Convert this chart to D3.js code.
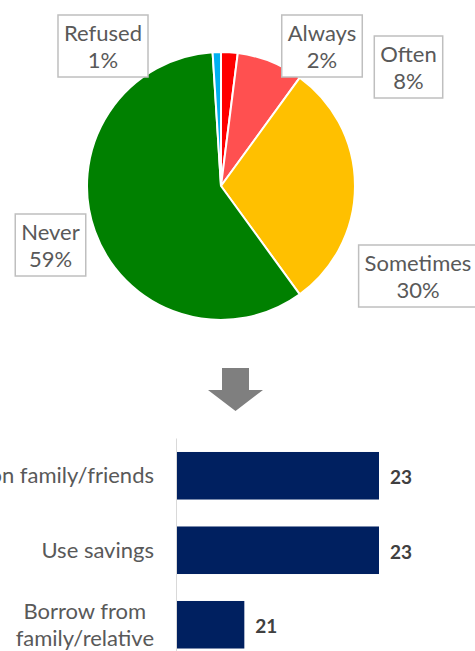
<!DOCTYPE html>
<html lang="en">
<head>
<meta charset="UTF-8">
<title>Pie and bar</title>
<script src="https://d3js.org/d3.v7.min.js"></script>
<style>
  body { margin: 0; background: #fff; overflow: hidden; }
  svg { display: block; font-family: Lato, "Noto Sans", sans-serif; }
</style>
</head>
<body>
<svg id="chart" width="475" height="651"></svg>
<script>
// pie data (clockwise from 12 o'clock)
const pieLabels = ["Always", "Often", "Sometimes", "Never", "Refused"];
const pieValues = [2, 8, 30, 59, 1];
const pieColors = ["#FF0000", "#FF5050", "#FFC000", "#008000", "#00B0F0"];

// bar data
const barLabels = [["Rely on family/friends"], ["Use savings"], ["Borrow from", "family/relative"]];
const barValues = [23, 23, 21];
const barDomain = [20, 23];

const svg = d3.select("#chart");

// ---- pie ----
const cx = 221, cy = 186, r = 134;
const pie = d3.pie().value(d => d).sort(null);
const arc = d3.arc().innerRadius(0).outerRadius(r);
const gPie = svg.append("g").attr("transform", `translate(${cx},${cy})`);
gPie.selectAll("path")
  .data(pie(pieValues))
  .join("path")
  .attr("d", arc)
  .attr("fill", (d, i) => pieColors[i])
  .attr("stroke", "#fff")
  .attr("stroke-width", 2);

// label boxes, placed by hand like the original
const boxPos = {
  Always:    [322, 15],
  Often:     [408.5, 36],
  Sometimes: [418, 245],
  Never:     [50.5, 214],
  Refused:   [103, 15]
};
pieLabels.forEach((lab, i) => {
  const [bx, by] = boxPos[lab];
  const g = svg.append("g");
  const rect = g.append("rect");
  const t = g.append("text")
    .attr("text-anchor", "middle")
    .attr("fill", "#595959")
    .style("font-size", "22px");
  t.append("tspan").attr("x", bx).attr("y", by + 26).text(lab);
  t.append("tspan").attr("x", bx).attr("y", by + 53).text(pieValues[i] + "%");
  const w = t.node().getBBox().width + 12;
  rect.attr("x", bx - w / 2).attr("y", by).attr("width", w).attr("height", 62)
    .attr("fill", "#fff").attr("stroke", "#BFBFBF").attr("stroke-width", 1.5);
});

// ---- arrow ----
svg.append("path")
  .attr("d", "M222,368 H249 V390 H263 L235.5,411 L208,390 H222 Z")
  .attr("fill", "#7F7F7F");

// ---- bars ----
const axisX = 176.5;
const x = d3.scaleLinear().domain(barDomain).range([177, 379]);
const y = d3.scaleBand().domain(d3.range(barValues.length))
  .range([438.5, 662]).paddingInner(0.362).paddingOuter(0.181);

svg.append("line")
  .attr("x1", axisX).attr("x2", axisX).attr("y1", 438.5).attr("y2", 662)
  .attr("stroke", "#D9D9D9").attr("stroke-width", 1);

svg.selectAll("rect.bar")
  .data(barValues)
  .join("rect")
  .attr("class", "bar")
  .attr("x", x(barDomain[0]))
  .attr("y", (d, i) => y(i))
  .attr("width", d => x(d) - x(barDomain[0]))
  .attr("height", y.bandwidth())
  .attr("fill", "#002060");

svg.selectAll("text.val")
  .data(barValues)
  .join("text")
  .attr("class", "val")
  .attr("x", d => x(d) + 11)
  .attr("y", (d, i) => y(i) + y.bandwidth() / 2)
  .attr("dy", "0.45em")
  .attr("fill", "#404040")
  .style("font-size", "19px")
  .style("font-weight", "bold")
  .text(d => d);

barLabels.forEach((lines, i) => {
  const mid = y(i) + y.bandwidth() / 2;
  const lh = 27;
  const t = svg.append("text")
    .attr("fill", "#595959")
    .style("font-size", "22px")
    .attr("text-anchor", "middle");
  lines.forEach((ln, k) => {
    t.append("tspan")
      .attr("x", 0)
      .attr("y", mid + (k - (lines.length - 1) / 2) * lh)
      .attr("dy", "0.35em")
      .text(ln);
  });
  // right-align the block at x = 154
  const bb = t.node().getBBox();
  t.selectAll("tspan").attr("x", 154 - bb.width / 2);
});
</script>
</body>
</html>
